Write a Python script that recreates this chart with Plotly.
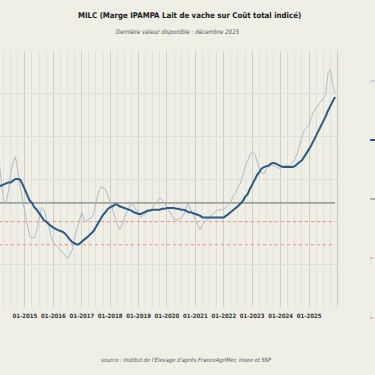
import pandas as pd
import plotly.graph_objects as go

# ---- data (monthly, Feb 2014 -> Dec 2025) ----
months = pd.date_range("2014-02-01", periods=143, freq="MS")

milc_monthly = [
    172, 151, 125, 121, 135, 155, 170, 176, 161, 142, 125, 110,
    94, 83, 81, 81, 89, 102, 117, 114, 105, 95, 83, 75,
    73, 70, 67, 63, 60, 57, 61, 67, 81, 93, 102, 111,
    102, 100, 103, 104, 109, 122, 134, 141, 139, 138, 131, 122,
    114, 104, 97, 91, 96, 104, 111, 117, 122, 118, 115, 110,
    105, 107, 109, 111, 114, 117, 121, 124, 128, 125, 122, 116,
    111, 107, 103, 102, 103, 104, 108, 116, 121, 114, 108, 102,
    96, 91, 96, 100, 102, 104, 108, 111, 113, 114, 114, 115,
    117, 120, 123, 130, 134, 141, 145, 154, 164, 171, 178, 182,
    180, 172, 162, 157, 156, 162, 164, 166, 166, 165, 163, 162,
    165, 166, 166, 166, 169, 173, 180, 191, 200, 207, 211, 214,
    223, 229, 233, 237, 241, 244, 248, 274, 278, 260, 251,
]

milc_ma12 = [
    141, 142, 144, 145, 146, 146, 148, 150, 150, 149, 144, 138,
    131, 125, 122, 117, 114, 110, 105, 102, 100, 97, 95, 93,
    91, 90, 89, 88, 86, 82, 79, 76, 74, 73, 74, 76,
    79, 81, 83, 86, 89, 94, 98, 103, 108, 111, 115, 117,
    118, 120, 120, 118, 117, 116, 115, 114, 113, 111, 110, 109,
    109, 110, 111, 113, 113, 114, 114, 114, 114, 115, 115, 116,
    116, 116, 116, 115, 115, 114, 114, 113, 111, 111, 110, 109,
    108, 107, 105, 105, 105, 105, 105, 105, 105, 105, 105, 105,
    107, 109, 111, 114, 116, 118, 121, 124, 129, 132, 138, 144,
    149, 154, 158, 162, 164, 165, 166, 168, 169, 168, 166, 165,
    164, 164, 164, 164, 164, 165, 168, 170, 172, 176, 180, 185,
    190, 195, 200, 205, 211, 217, 223, 230, 236, 241, 246,
]

mean_level = 122
threshold_1 = 100
threshold_2 = 73

series_names = [
    "MILC mensuel",
    "MILC moyenne mobile 12 mois",
    "Moyenne 2014-2025",
    "Seuil d'alerte 1",
    "Seuil d'alerte 2",
]

BG = "#EFEFE6"
FONT = "Liberation Sans Narrow, DejaVu Sans Condensed, Liberation Sans, sans-serif"

C_MONTHLY = "#AFBCC8"
C_MA = "#2B5A87"
C_MEAN = "#A3A39E"
C_THR = "#F08C8C"

styles = [
    dict(color=C_MONTHLY, width=1),
    dict(color=C_MA, width=2),
    dict(color=C_MEAN, width=1.6),
    dict(color=C_THR, width=1, dash="dot"),
    dict(color=C_THR, width=1, dash="dot"),
]

ends = [months[0], months[-1]]

fig = go.Figure()
fig.add_trace(go.Scatter(x=ends, y=[mean_level] * 2, mode="lines", name=series_names[2],
                         line=styles[2], showlegend=False))
fig.add_trace(go.Scatter(x=ends, y=[threshold_1] * 2, mode="lines", name=series_names[3],
                         line=styles[3], showlegend=False))
fig.add_trace(go.Scatter(x=ends, y=[threshold_2] * 2, mode="lines", name=series_names[4],
                         line=styles[4], showlegend=False))
fig.add_trace(go.Scatter(x=months, y=milc_monthly, mode="lines", name=series_names[0],
                         line=styles[0], showlegend=False))
fig.add_trace(go.Scatter(x=months, y=milc_ma12, mode="lines", name=series_names[1],
                         line=styles[1], showlegend=False))

# legend keys (the legend labels lie beyond the right edge of the view)
PLOT_W, PLOT_BOTTOM, PLOT_H = 337, 307, 256
key_rows = [81, 140, 199, 258, 318]
shapes = []
for st, row in zip(styles, key_rows):
    shapes.append(dict(type="line", xref="paper", yref="paper",
                       x0=370 / PLOT_W, x1=380 / PLOT_W,
                       y0=(PLOT_BOTTOM - row) / PLOT_H, y1=(PLOT_BOTTOM - row) / PLOT_H,
                       line=st))

fig.update_layout(
    width=375, height=375,
    margin=dict(l=0, r=38, t=51, b=68, autoexpand=False),
    paper_bgcolor=BG, plot_bgcolor=BG,
    font=dict(family=FONT, color="#333333"),
    showlegend=False,
    shapes=shapes,
    xaxis=dict(
        type="date", range=["2014-02-14", "2025-12-26"],
        dtick="M12", tick0="2015-01-01", tickformat="%m-%Y", tickangle=0,
        showgrid=True, gridcolor="#CFCFC7", gridwidth=1,
        minor=dict(dtick="M3", showgrid=True, gridcolor="#E1E1D9", gridwidth=1),
        ticks="", zeroline=False, showline=False, ticklabelstandoff=4,
        tickfont=dict(size=6, family=FONT, color="#333333", weight="bold"),
    ),
    yaxis=dict(
        range=[0, 300], dtick=50, showgrid=True, gridcolor="#E1E1D9",
        showticklabels=False, side="right", showline=True, linecolor="#C9C9C1",
        zeroline=False, ticks="",
    ),
    annotations=[
        dict(text="<b>MILC (Marge IPAMPA Lait de vache sur Coût total indicé)</b>",
             xref="paper", yref="paper", x=189 / PLOT_W, y=(PLOT_BOTTOM - 15) / PLOT_H,
             xanchor="center", yanchor="middle", showarrow=False,
             font=dict(size=7.8, family=FONT, color="#1A1A1A")),
        dict(text="<i>Dernière valeur disponible : décembre 2025</i>",
             xref="paper", yref="paper", x=178 / PLOT_W, y=(PLOT_BOTTOM - 32) / PLOT_H,
             xanchor="center", yanchor="middle", showarrow=False,
             font=dict(size=6.2, family=FONT, color="#555555")),
        dict(text="<i>source : Institut de l'Elevage d'après FranceAgriMer, Insee et SSP</i>",
             xref="paper", yref="paper", x=187 / PLOT_W, y=(PLOT_BOTTOM - 360) / PLOT_H,
             xanchor="center", yanchor="middle", showarrow=False,
             font=dict(size=5.8, family=FONT, color="#555555")),
    ],
)

fig.write_html(
    "out.html",
    config={"displayModeBar": False},
    post_script="document.body.style.margin='0';document.body.style.overflow='hidden';",
)
